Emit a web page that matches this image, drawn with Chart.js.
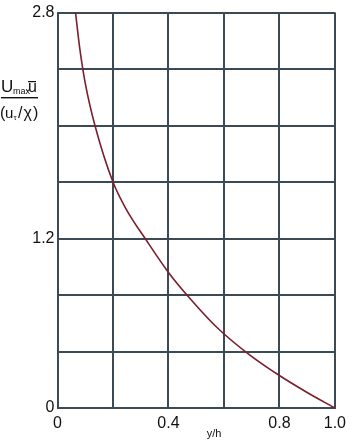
<!DOCTYPE html>
<html>
<head>
<meta charset="utf-8">
<script src="https://cdn.jsdelivr.net/npm/chart.js@4/dist/chart.umd.min.js"></script>
<style>
  html, body { margin: 0; padding: 0; background: #fff; }
  #wrap { width: 352px; height: 441px; position: relative; }
</style>
</head>
<body>
<div id="wrap"><canvas id="myChart" width="352" height="441"></canvas></div>
<script>
// DATA
const yOverH = [0.065, 0.08, 0.1, 0.135, 0.2, 0.25, 0.316, 0.4, 0.48, 0.575, 0.69, 0.8, 0.9, 1.0];
const defect = [2.8, 2.55, 2.3, 2.0, 1.6, 1.4, 1.2, 0.96, 0.77, 0.57, 0.38, 0.23, 0.11, 0];
const xTickLabels = [0, 0.4, 0.8, 1.0];
const yTickLabels = [0, 1.2, 2.8];

const gridColor = '#3b4a54';
const curveColor = '#7a1f2b';
const fontFam = '"Liberation Sans", Arial, sans-serif';

let points = yOverH.map((x, i) => ({ x: x, y: defect[i] }));

function put(ctx, txt, size, x, y) {
    ctx.font = size + 'px ' + fontFam;
    ctx.fillText(txt, x, y);
}

// y axis title drawn as a fraction, plus the x axis title
const axisTitles = {
    id: 'axisTitles',
    afterDraw(chart) {
        const ctx = chart.ctx;
        ctx.save();
        ctx.fillStyle = '#111';
        ctx.textBaseline = 'alphabetic';
        // numerator
        put(ctx, 'U', 17, 1, 92);
        put(ctx, 'max', 9, 13, 94);
        put(ctx, '-', 9, 26, 93);
        put(ctx, 'u', 16, 28, 92);
        ctx.fillRect(28, 81, 8, 1.2);
        // fraction bar
        ctx.fillRect(1, 97, 37, 1.4);
        // denominator
        put(ctx, '(', 16, 0, 118);
        put(ctx, 'u', 15, 5, 118);
        put(ctx, 'τ', 8, 13.5, 120);
        put(ctx, '/', 16, 18, 118);
        put(ctx, 'χ', 16, 23.5, 118);
        put(ctx, ')', 16, 33, 118);
        // x axis title
        ctx.textAlign = 'center';
        put(ctx, 'y/h', 11, 214, 437);
        ctx.restore();
    }
};

const config = {
    type: 'scatter',
    data: {
        datasets: [{
            data: points,
            showLine: true,
            borderColor: curveColor,
            borderWidth: 1.6,
            pointRadius: 0,
            cubicInterpolationMode: 'monotone',
            fill: false
        }]
    },
    options: {
        responsive: false,
        animation: false,
        layout: { padding: { top: 6, right: 12, left: 0, bottom: 0 } },
        plugins: { legend: { display: false }, tooltip: { enabled: false } },
        scales: {
            x: {
                type: 'linear',
                min: 0,
                max: 1,
                ticks: {
                    stepSize: 0.2,
                    color: '#111',
                    font: { size: 16, family: fontFam },
                    maxRotation: 0,
                    padding: 6,
                    callback: (v) => {
                        let r = Math.round(v * 10) / 10;
                        if (!xTickLabels.includes(r)) return '';
                        return r === 1 ? '1.0' : String(r);
                    }
                },
                grid: { color: gridColor, lineWidth: 2, drawTicks: false },
                border: { color: gridColor, width: 2 },
                afterFit: (s) => { s.height = 33; }
            },
            y: {
                type: 'linear',
                min: 0,
                max: 2.8,
                ticks: {
                    stepSize: 0.4,
                    color: '#111',
                    font: { size: 16, family: fontFam },
                    padding: 3,
                    callback: (v) => {
                        let r = Math.round(v * 10) / 10;
                        return yTickLabels.includes(r) ? String(r) : '';
                    }
                },
                grid: { color: gridColor, lineWidth: 2, drawTicks: false },
                border: { color: gridColor, width: 2 },
                afterFit: (s) => { s.width = 57.5; }
            }
        }
    },
    plugins: [axisTitles]
};

const myChart = new Chart(document.getElementById('myChart'), config);
</script>
</body>
</html>
